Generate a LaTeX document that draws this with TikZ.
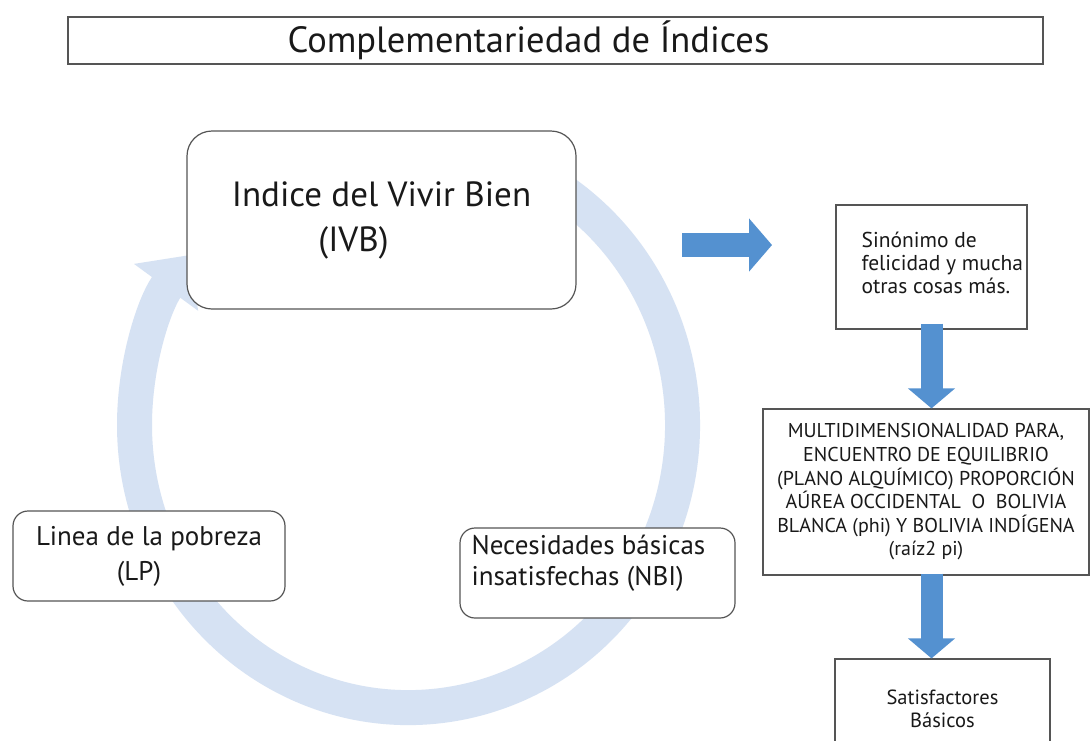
\documentclass[tikz,border=0pt]{standalone}
\usepackage{fontspec}
\setmainfont{PT Sans}
\usetikzlibrary{arrows.meta}

\definecolor{ringblue}{RGB}{214,226,243}
\definecolor{arrowblue}{RGB}{84,145,208}
\definecolor{boxgray}{RGB}{85,85,85}
\definecolor{textgray}{RGB}{25,25,25}

\tikzset{
  plainbox/.style={draw=boxgray, line width=1.2pt, fill=white, text=textgray, inner sep=0pt},
  roundbox/.style={plainbox, rounded corners=#1},
  boxtext/.style={text=textgray, inner sep=0pt, align=left},
  blockarrow/.style={draw=arrowblue, line width=#1, -{Triangle[width=46pt,length=20pt]}},
}

\begin{document}
\begin{tikzpicture}[x=1pt, y=1pt]
    % page size
    \useasboundingbox (0,0) rectangle (1091,-740);
    \fill[white] (0,0) rectangle (1091,-740);

    % title
    \node[plainbox, minimum width=975pt, minimum height=47pt, font=\fontsize{36.5}{44}\selectfont] (title) at (555.5,-40.5) {Complementariedad de Índices\hspace*{54pt}};

    % circular arrow, behind the boxes
    \draw[ringblue, line width=35pt, -{Triangle[width=77pt,length=40pt]}]
        (545.5,-180.4) arc[start angle=60, end angle=-217, x radius=274, y radius=282.5];

    % boxes of the cycle
    \node[roundbox=25pt, minimum width=389pt, minimum height=178pt, align=center, font=\fontsize{35}{45}\selectfont] (ivb) at (381.5,-220) {Indice del Vivir Bien\\(IVB)\hspace*{56pt}};
    \node[roundbox=15pt, minimum width=272pt, minimum height=90pt, align=center, font=\fontsize{27}{35}\selectfont] (lp) at (149,-556) {Linea de la pobreza\\(LP)\hspace*{20pt}};
    \node[roundbox=15pt, minimum width=275pt, minimum height=90pt] (nbi) at (597.5,-573) {};
    \node[boxtext, anchor=west, font=\fontsize{27}{31}\selectfont] (nbitext) at ([xshift=12pt, yshift=10pt]nbi.west) {Necesidades básicas\\insatisfechas (NBI)};

    % boxes on the right
    \node[plainbox, minimum width=191pt, minimum height=124pt] (sin) at (931.5,-267) {};
    \node[boxtext, anchor=west, font=\fontsize{21.5}{23}\selectfont] (sintext) at ([xshift=26pt, yshift=4pt]sin.west) {Sinónimo de\\felicidad y mucha\\otras cosas más.};
    \node[plainbox, minimum width=326pt, minimum height=166pt, align=center, font=\fontsize{20}{23.6}\selectfont] (multi) at (926,-492) {MULTIDIMENSIONALIDAD PARA,\\ENCUENTRO DE EQUILIBRIO\\(PLANO ALQUÍMICO) PROPORCIÓN\\AÚREA OCCIDENTAL\ \ O\ \ BOLIVIA\\BLANCA (phi) Y BOLIVIA INDÍGENA\\(raíz2 pi)};
    \node[plainbox, minimum width=215pt, minimum height=122pt] (sat) at (942.5,-720) {};
    \node[boxtext, align=center, font=\fontsize{20.5}{23}\selectfont] (sattext) at ([yshift=-50.5pt]sat.north) {Satisfactores\\Básicos};

    % blue arrows
    \coordinate (hstart) at (682,-245);
    \coordinate (hend) at (772,-245);
    \draw[blockarrow=24pt, -{Triangle[width=52pt,length=23pt]}] (hstart) -- (hend);
    \draw[blockarrow=22pt] ([yshift=6pt]sin.south) -- (sin.south |- multi.north);
    \draw[blockarrow=22pt] ([yshift=2pt]multi.south -| sin.south) -- (sat.north -| sin.south);
\end{tikzpicture}
\end{document}
